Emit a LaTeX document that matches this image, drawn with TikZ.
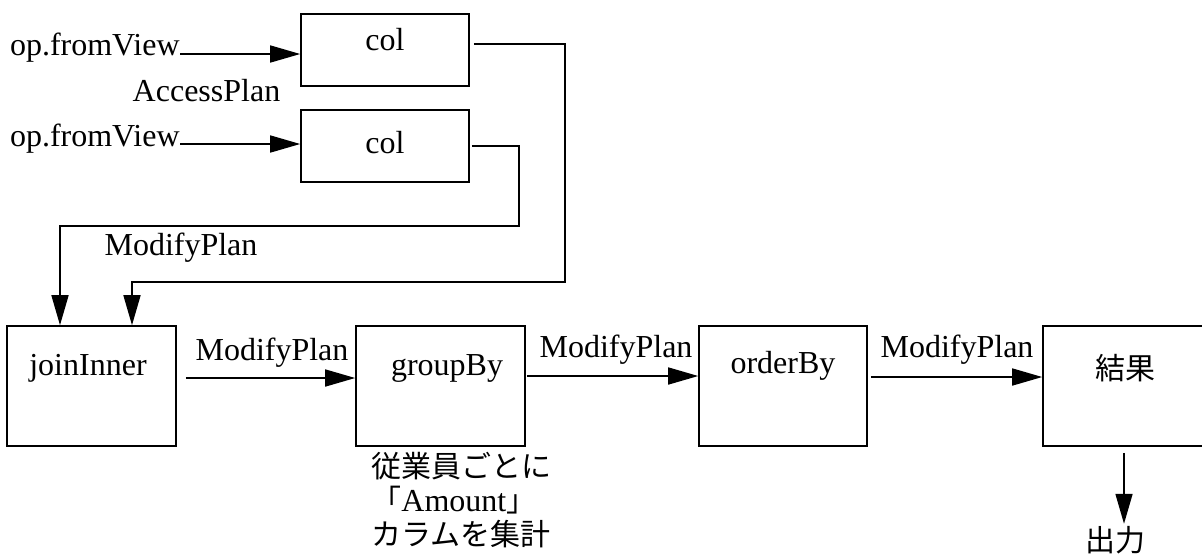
\documentclass[tikz,border=0pt]{standalone}
\usepackage{fontspec}
\setmainfont{Liberation Serif}
\newfontfamily\jpfont{Noto Sans CJK JP}
\usetikzlibrary{arrows.meta}
\begin{document}
\begin{tikzpicture}[x=0.5pt,y=-0.5pt,
  every node/.style={inner sep=0pt},
  txt/.style={font=\fontsize{16}{19}\selectfont, text height=0.7em, text depth=0.2em},
  jp/.style={font=\fontsize{15}{17}\selectfont\jpfont},
  box/.style={draw, line width=0.8pt},
  smallbox/.style={box, minimum width=84pt, minimum height=36pt},
  bigbox/.style={box, minimum width=84.5pt, minimum height=60pt},
  conn/.style={line width=0.8pt, -{Triangle[length=15pt,width=8.5pt]}}]
\useasboundingbox (0,0) rectangle (1202,553);
\clip (0,0) rectangle (1202,553);

% access plans
\node[smallbox] (col1) at (385,50) {};
\node[txt] (col1t) at (385,45) {col};
\node[smallbox] (col2) at (385,146) {};
\node[txt] (col2t) at (385,148) {col};
\node[txt, anchor=base east] (fv1) at (180,55) {op.fromView};
\node[txt, anchor=base east] (fv2) at (180,146) {op.fromView};
\node[txt] (ap) at (206.5,96) {AccessPlan};

% processing chain
\node[bigbox] (join) at (91.5,386) {};
\node[txt] (joint) at (88,370) {joinInner};
\node[bigbox] (grp) at (440.5,386) {};
\node[txt] (grpt) at (447,370) {groupBy};
\node[bigbox, minimum width=84pt] (ord) at (783,386) {};
\node[txt] (ordt) at (783,368) {orderBy};
\node[bigbox] (res) at (1127.5,386) {};
\node[jp] (rest) at (1125,368) {結果};
\node[jp] (out) at (1115,540) {出力};

% labels
\node[txt] (m0) at (181,250) {ModifyPlan};
\node[txt] (m1) at (272,355) {ModifyPlan};
\node[txt] (m2) at (616,352) {ModifyPlan};
\node[txt] (m3) at (957,352) {ModifyPlan};
\node[jp, anchor=north west, align=left] (note) at (371,452)
  {従業員ごとに\\「{\rmfamily\fontsize{16}{17}\selectfont Amount}」\\カラムを集計};

% connectors
\draw[conn] ([yshift=0.5pt]fv1.base east) -- ([yshift=-2pt]col1.west);
\draw[conn] ([yshift=1pt]fv2.base east) -- ([yshift=1pt]col2.west);
\draw[conn] ([xshift=2pt,yshift=3pt]col1.east) -- ++(91,0) -- ++(0,238)
  -| ([xshift=20.25pt]join.north);
\draw[conn] ([xshift=1pt]col2.east) -- ++(47,0) -- ++(0,80)
  -| ([xshift=-15.75pt]join.north);
\draw[conn] ([xshift=4.5pt,yshift=4pt]join.east) -- ([yshift=4pt]grp.west);
\draw[conn] ([xshift=0.5pt,yshift=5pt]grp.east) -- ([yshift=5pt]ord.west);
\draw[conn] ([xshift=1.5pt,yshift=4.5pt]ord.east) -- ([yshift=4.5pt]res.west);
\draw[conn] ([xshift=-1.75pt,yshift=-3pt]res.south) -- ++(0,71);
\end{tikzpicture}
\end{document}
